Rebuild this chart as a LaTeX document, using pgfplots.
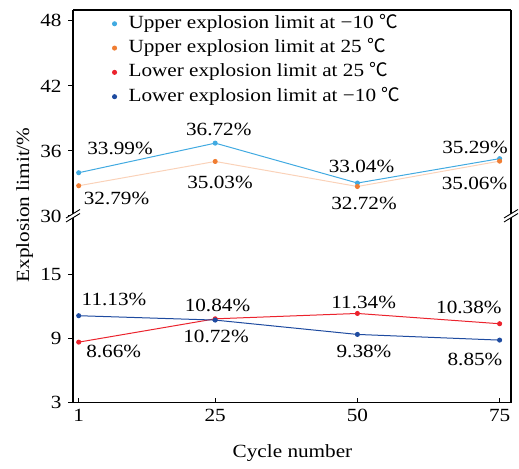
\documentclass[border=0pt]{standalone}
\usepackage{fontspec}
\setmainfont{Liberation Serif}[FakeStretch=1.14]
\newfontfamily\cjk{Noto Sans CJK SC}
\usepackage{pgfplots}
\pgfplotsset{compat=1.18}
\definecolor{cLB}{RGB}{65,170,225}
\definecolor{cOM}{RGB}{240,125,50}
\definecolor{cOL}{RGB}{250,210,185}
\definecolor{cR}{RGB}{235,35,45}
\definecolor{cDB}{RGB}{30,75,160}
\newcommand{\degC}{{\cjk ℃}}
\pgfplotsset{
  brk/.style={
    scale only axis, width=438pt, xmin=0, xmax=77,
    /pgf/number format/assume math mode=true,
    axis line style={line width=1.1pt},
    every tick/.style={black, line width=1pt},
    major tick length=5pt,
    clip=false,
    every axis plot/.append style={line width=1pt, mark=*, mark size=2pt},
  }
}
\begin{document}
\fontsize{18.6pt}{22pt}\selectfont
\begin{tikzpicture}
\path (0,0) rectangle (519pt,463pt);
% lower part
\begin{axis}[brk, name=lower, at={(73pt,60.3pt)}, anchor=south west,
  height=186.7pt, ymin=3, ymax=20.45,
  axis x line*=bottom, axis y line*=box,
  xtick={1,25,50,75}, ytick={3,9,15}, ytick pos=left,
  tick align=outside, xtick align=inside,
  xticklabel style={yshift=-0.5pt},
]
\addplot[color=cR, mark options={fill=cR, draw=cR}] coordinates {(1,8.66) (25,10.84) (50,11.34) (75,10.38)};
\addplot[color=cDB, mark options={fill=cDB, draw=cDB}] coordinates {(1,11.13) (25,10.72) (50,9.38) (75,8.85)};
\node[anchor=base, inner sep=0pt] at (axis cs:7.21,12.13) {11.13\%};
\node[anchor=base, inner sep=0pt] at (axis cs:7.16,7.18) {8.66\%};
\node[anchor=base, inner sep=0pt] at (axis cs:25.4,11.57) {10.84\%};
\node[anchor=base, inner sep=0pt] at (axis cs:25.14,8.58) {10.72\%};
\node[anchor=base, inner sep=0pt] at (axis cs:51.1,11.85) {11.34\%};
\node[anchor=base, inner sep=0pt] at (axis cs:51.16,7.18) {9.38\%};
\node[anchor=base, inner sep=0pt] at (axis cs:69.6,11.38) {10.38\%};
\node[anchor=base, inner sep=0pt] at (axis cs:70.67,6.43) {8.85\%};
\end{axis}
% upper part
\begin{axis}[brk, name=upper, at={(73pt,247pt)}, anchor=south west,
  height=206pt, ymin=30, ymax=49,
  axis x line*=top, axis y line*=box,
  xtick=\empty, ytick={30,36,42,48}, ytick pos=left,
  tick align=outside,
  legend cell align=left,
  legend style={draw=none, fill=none, at={(0.083,0.985)}, anchor=north west,
    row sep=7.3pt, nodes={inner sep=0pt, text height=13pt, text depth=4pt},
    /tikz/every odd column/.append style={column sep=12pt}},
]
\addplot[color=cLB, mark options={fill=cLB, draw=cLB}, forget plot] coordinates {(1,33.99) (25,36.72) (50,33.04) (75,35.29)};
\addplot[color=cOL, mark options={fill=cOM, draw=cOM}, forget plot] coordinates {(1,32.79) (25,35.03) (50,32.72) (75,35.06)};
\addlegendimage{only marks, mark=*, mark size=2pt, color=cLB}
\addlegendentry{Upper explosion limit at −10 \degC}
\addlegendimage{only marks, mark=*, mark size=2pt, color=cOM}
\addlegendentry{Upper explosion limit at 25 \degC}
\addlegendimage{only marks, mark=*, mark size=2pt, color=cR}
\addlegendentry{Lower explosion limit at 25 \degC}
\addlegendimage{only marks, mark=*, mark size=2pt, color=cDB}
\addlegendentry{Lower explosion limit at −10 \degC}
\node[anchor=base, inner sep=0pt] at (axis cs:8.26,35.63) {33.99\%};
\node[anchor=base, inner sep=0pt] at (axis cs:7.65,31.1) {32.79\%};
\node[anchor=base, inner sep=0pt] at (axis cs:25.62,37.47) {36.72\%};
\node[anchor=base, inner sep=0pt] at (axis cs:25.84,32.58) {35.03\%};
\node[anchor=base, inner sep=0pt] at (axis cs:50.72,34.0) {33.04\%};
\node[anchor=base, inner sep=0pt] at (axis cs:51.16,30.64) {32.72\%};
\node[anchor=base, inner sep=0pt] at (axis cs:70.68,35.72) {35.29\%};
\node[anchor=base, inner sep=0pt] at (axis cs:70.59,32.4) {35.06\%};
\end{axis}
% break marks
\foreach \a in {lower.north west, lower.north east} {
  \begin{scope}[shift={(\a)}]
    \fill[white] (-7pt,-6pt)--(7pt,2.5pt)--(7pt,6.5pt)--(-7pt,-2pt)--cycle;
    \draw[line width=0.9pt] (-7pt,-6pt)--(7pt,2.5pt) (-7pt,-2pt)--(7pt,6.5pt);
  \end{scope}
}
% axis labels
\node[rotate=90, anchor=base] at (29pt,258pt) {Explosion limit/\%};
\node[anchor=base] at (292.5pt,5pt) {Cycle number};
\end{tikzpicture}
\end{document}
